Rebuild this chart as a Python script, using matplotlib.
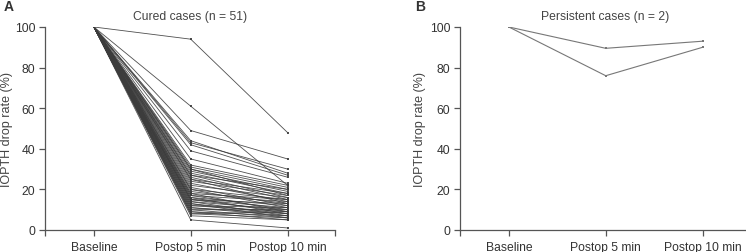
import matplotlib
matplotlib.use("Agg")
import matplotlib.pyplot as plt
import numpy as np

plt.rcParams['font.family'] = ['Liberation Sans', 'DejaVu Sans']

categories = ["Baseline", "Postop 5 min", "Postop 10 min"]

# Panel A: cured cases (n = 51)
cured_baseline = [100] * 51
cured_5min = [94, 61, 49, 44, 43, 42, 39, 35, 32, 31, 30, 30, 29, 28, 27, 27,
              26, 25, 25, 24, 23, 22, 21, 20, 20, 19, 18, 18, 17, 17, 16, 16,
              15, 15, 15, 14, 14, 13, 13, 12, 12, 11, 11, 10, 10, 9, 9, 8,
              8, 7, 5]
cured_10min = [48, 22, 35, 28, 30, 27, 26, 23, 22, 21, 20, 17, 19, 18, 20, 16,
               15, 18, 13, 17, 14, 16, 12, 15, 11, 13, 9, 15, 10, 14, 8, 12,
               11, 9, 13, 7, 10, 8, 6, 11, 9, 7, 8, 6, 10, 5, 7, 6, 9, 5, 1]

# Panel B: persistent cases (n = 2)
pers_baseline = [100, 100]
pers_5min = [89.5, 76]
pers_10min = [93, 90]

fig = plt.figure(figsize=(7.46, 2.53), dpi=100)
axA = fig.add_axes([45/746, 1-231/253, 290/746, 203/253])
axB = fig.add_axes([460/746, 1-231/253, 290/746, 203/253])

def style(ax, title, label_x):
    x = np.arange(len(categories))
    ax.set_xlim(-0.505, 2.49)
    ax.set_ylim(0, 100)
    ax.set_yticks([0, 20, 40, 60, 80, 100])
    ax.set_xticks(x)
    ax.set_xticklabels(categories)
    ax.set_xticks([-0.505, 2.49], minor=True)
    for s in ['top', 'right']:
        ax.spines[s].set_visible(False)
    for s in ['left', 'bottom']:
        ax.spines[s].set_color('#555555')
        ax.spines[s].set_linewidth(0.9)
    ax.tick_params(axis='both', which='both', length=4, width=0.9, color='#555555',
                   labelsize=8.7, labelcolor='#333333', pad=3)
    ax.tick_params(axis='x', pad=4)
    ax.set_ylabel("IOPTH drop rate (%)", fontsize=9, color='#444444')
    ax.yaxis.set_label_coords(label_x, 0.5)
    ax.set_title(title, fontsize=8.7, color='#444444', pad=6)
    ax.spines['bottom'].set_bounds(-0.505, 2.49)

for b, p5, p10 in zip(cured_baseline, cured_5min, cured_10min):
    axA.plot(range(3), [b, p5, p10], color='#3c3c3c', lw=0.6, marker='s',
             markersize=1.7, markeredgewidth=0, alpha=0.9)
for b, p5, p10 in zip(pers_baseline, pers_5min, pers_10min):
    axB.plot(range(3), [b, p5, p10], color='#777777', lw=0.8, marker='s',
             markersize=1.8, markeredgewidth=0)

style(axA, "Cured cases (n = 51)", -32/290)
style(axB, "Persistent cases (n = 2)", -34/290)

fig.text(4/746, 1-7/253, "A", fontsize=10, fontweight='bold', color='#333333', va='center')
fig.text(415/746, 1-7/253, "B", fontsize=10, fontweight='bold', color='#333333', va='center')

fig.savefig("out.png", dpi=100)
